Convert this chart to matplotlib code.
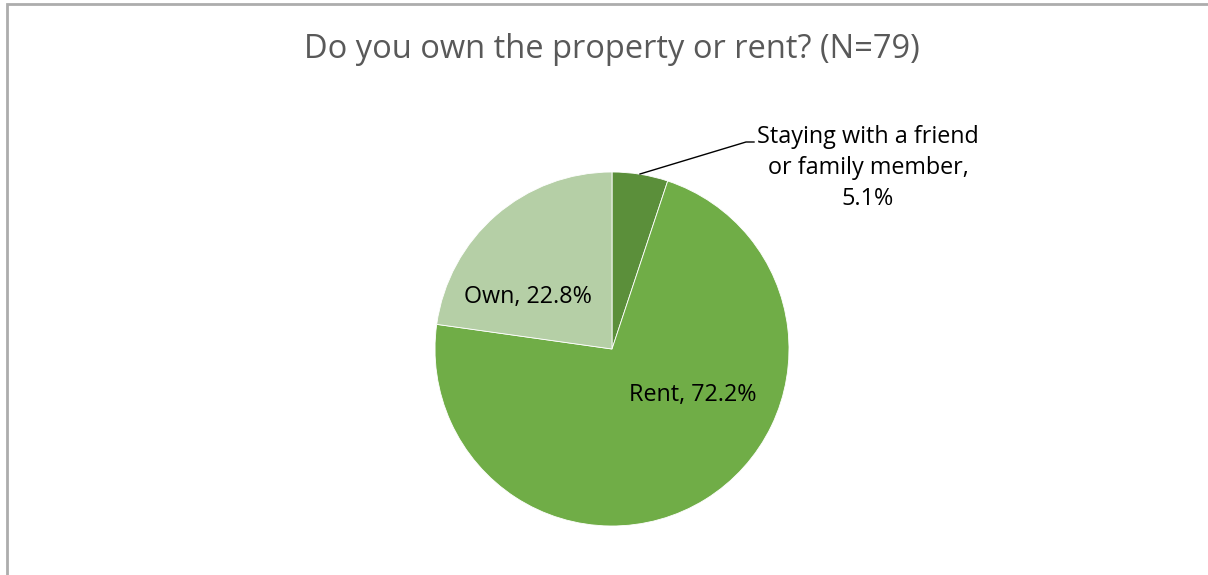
import matplotlib as mpl
mpl.use('agg')
import matplotlib.pyplot as plt
from matplotlib.patches import Rectangle

plt.rcParams['font.family'] = ['Open Sans', 'DejaVu Sans']

categories = ['Staying with a friend\nor family member', 'Rent', 'Own']
shares = [5.1, 72.2, 22.8]
colors = ['#5b8f3a', '#70ad47', '#b5cfa6']
title = 'Do you own the property or rent? (N=79)'

W, H = 1208, 575
fig = plt.figure(figsize=(W / 100, H / 100), dpi=100)
ax = fig.add_axes([0, 0, 1, 1])

cx, cy, r = 612, H - 349, 177
wedges, _ = ax.pie(shares, colors=colors, startangle=90, counterclock=False,
                   center=(cx, cy), radius=r, frame=True,
                   wedgeprops=dict(linewidth=0.6, edgecolor='white'))
ax.set_xlim(0, W)
ax.set_ylim(0, H)
ax.set_aspect('equal')
ax.axis('off')

labels = ['%s,\n%.1f%%' % (categories[0], shares[0]),
          '%s, %.1f%%' % (categories[1], shares[1]),
          '%s, %.1f%%' % (categories[2], shares[2])]

ax.text(868, H - 168, labels[0], ha='center', va='center', fontsize=16.8,
        linespacing=1.38, color='black')
ax.plot([640, 746, 754], [H - 174, H - 142, H - 142], color='black', lw=1)
ax.text(693, H - 395, labels[1], ha='center', va='center', fontsize=16.8, color='black')
ax.text(528, H - 297, labels[2], ha='center', va='center', fontsize=16.8, color='black')

fig.text(612 / W, 1 - 49 / H, title, ha='center', va='center', fontsize=23.5, color='#595959')

fig.patches.append(Rectangle((7 / W, -0.1), 1.2, 1.1 - 4 / H, transform=fig.transFigure,
                             fill=False, edgecolor='#adadad', lw=2))

plt.savefig('out.png', dpi=100)
